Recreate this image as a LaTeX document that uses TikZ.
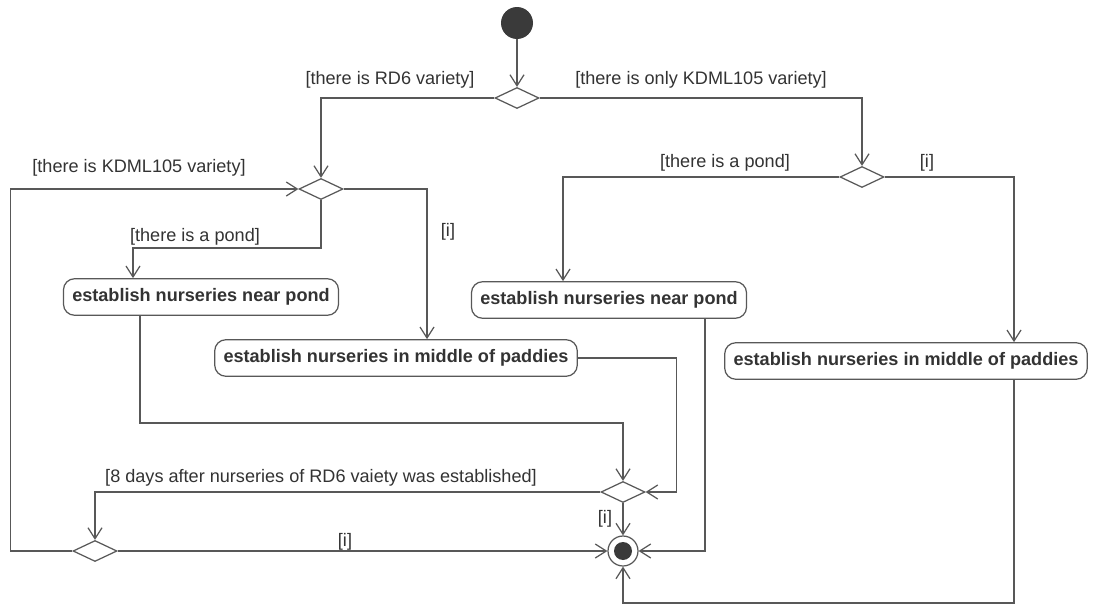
\documentclass[tikz,border=0pt]{standalone}
\usepackage{fontspec}
\setmainfont{Liberation Sans}
\usetikzlibrary{arrows.meta, shapes.geometric}
\definecolor{linegrey}{HTML}{585858}
\definecolor{textgrey}{HTML}{333333}
\definecolor{dotgrey}{HTML}{3A3A3A}

\begin{document}
\begin{tikzpicture}[x=0.02cm, y=-0.02cm,
  flow/.style={draw=linegrey, line width=0.7pt, -{Straight Barb[length=2.2mm, width=2.8mm]}},
  action/.style={draw=linegrey, line width=0.7pt, rounded corners=0.22cm, minimum height=0.73cm, inner xsep=5pt, text=textgrey, font=\fontsize{10.3}{12}\selectfont\bfseries},
  decision/.style={draw=linegrey, line width=0.7pt, diamond, minimum width=0.88cm, minimum height=0.42cm, inner sep=0pt},
  guard/.style={text=textgrey, font=\fontsize{10.3}{12}\selectfont, inner sep=0pt},
  startdot/.style={circle, fill=dotgrey, minimum size=0.64cm, inner sep=0pt},
  enddot/.style={circle, draw=linegrey, line width=0.7pt, minimum size=0.6cm, inner sep=0pt, path picture={\fill[dotgrey] (path picture bounding box.center) circle (0.18cm);}}]
\fill[white] (0,0) rectangle (1093,605);
\useasboundingbox (0,0) rectangle (1093,605);
\node[startdot] (start) at (517,23) {};
\node[decision] (decVariety) at (517,98) {};
\node[decision] (decPondA) at (321,189) {};
\node[decision] (decPondB) at (862,177) {};
\node[action] (nearPondA) at (201,297) {establish nurseries near pond};
\node[action] (middleA) at (396,358) {establish nurseries in middle of paddies};
\node[action] (nearPondB) at (609,300) {establish nurseries near pond};
\node[action] (middleB) at (906,361) {establish nurseries in middle of paddies};
\node[decision] (merge) at (623,492) {};
\node[decision] (decDays) at (95,551) {};
\node[enddot] (stop) at (623,551) {};
\coordinate (bendA) at (133,248);
\coordinate (bendB) at (563,177);
\coordinate (bendC) at (1014,177);
\coordinate (bendD) at (427,189);
\coordinate (bendE) at (140,423);
\coordinate (bendF) at (705,551);
\coordinate (bendG) at (1014,603);
\draw[flow] (start) -- (decVariety);
\draw[flow] (decVariety.west) -| (decPondA.north);
\draw[flow] (decVariety.east) -| (decPondB.north);
\draw[flow] (decPondA.east) -- (bendD) -- (bendD |- middleA.north);
\draw[flow] (decPondA.south) |- (bendA) -- (bendA |- nearPondA.north);
\draw[flow] (decPondB.west) -- (bendB) -- (bendB |- nearPondB.north);
\draw[flow] (decPondB.east) -- (bendC) -- (bendC |- middleB.north);
\draw[flow] (bendE |- nearPondA.south) -- (bendE) -| (merge.north);
\draw[flow] (middleA.east) -- ++(99,0) |- (merge.east);
\draw[flow] (merge.west) -| (decDays.north);
\draw[flow] (merge.south) -- (stop.north);
\draw[flow] (decDays.east) -- (stop.west);
\draw[flow] (decDays.west) -- ++(-62,0) |- (decPondA.west);
\draw[flow] (bendF |- nearPondB.south) |- (stop.east);
\draw[flow] (bendG |- middleB.south) -- (bendG) -| (stop.south);
\node[guard] (lblRD6) at (390,80) {[there is RD6 variety]};
\node[guard] (lblOnly) at (701,80) {[there is only KDML105 variety]};
\node[guard] (lblKdml) at (139,168) {[there is KDML105 variety]};
\node[guard] (lblPondA) at (195,237) {[there is a pond]};
\node[guard] (lblElseA) at (448,232) {[i]};
\node[guard] (lblPondB) at (725,163) {[there is a pond]};
\node[guard] (lblElseB) at (927,163) {[i]};
\node[guard] (lblDays) at (321,478) {[8 days after nurseries of RD6 vaiety was established]};
\node[guard] (lblElseC) at (345,542) {[i]};
\node[guard] (lblElseD) at (605,519) {[i]};
\end{tikzpicture}
\end{document}
